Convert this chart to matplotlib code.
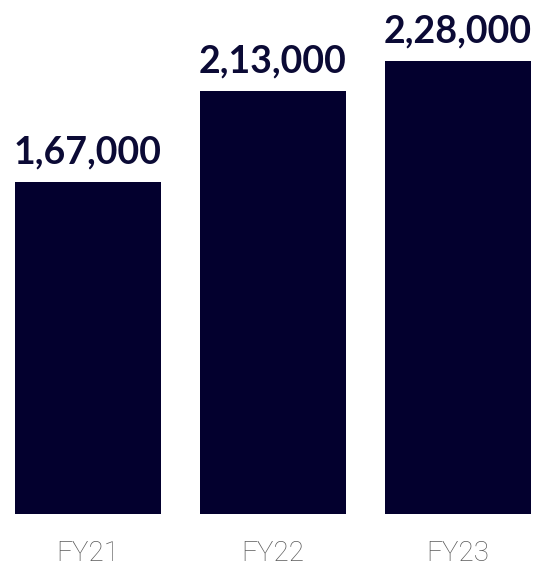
import matplotlib
matplotlib.use("Agg")
import matplotlib.pyplot as plt

categories = ["FY21", "FY22", "FY23"]
values = [167000, 213000, 228000]
labels = ["1,67,000", "2,13,000", "2,28,000"]

W, H, DPI = 537, 568, 100
fig = plt.figure(figsize=(W / DPI, H / DPI), dpi=DPI)
ax = fig.add_axes([0, 54 / H, 1, 514 / H])
x = list(range(len(categories)))
ax.bar(x, values, width=0.784, color="#03002e")
ax.set_xlim(-88 / 185, (W - 88) / 185)
ax.set_ylim(0, 258600)
for xi, v, lab in zip(x, values, labels):
    ax.annotate(lab, (xi, v), xytext=(0, 9), textcoords="offset points",
                ha="center", va="bottom", fontsize=27, fontweight="bold",
                family=["Lato", "DejaVu Sans"], color="#0b0a35")
ax.set_xticks(x)
ax.set_xticklabels(categories, fontsize=20, color="#5a5a5a",
                   family=["Roboto", "DejaVu Sans"], fontweight="light")
ax.tick_params(axis="x", length=0, pad=19)
ax.set_yticks([])
for s in ax.spines.values():
    s.set_visible(False)
fig.savefig("out.png", dpi=DPI)
